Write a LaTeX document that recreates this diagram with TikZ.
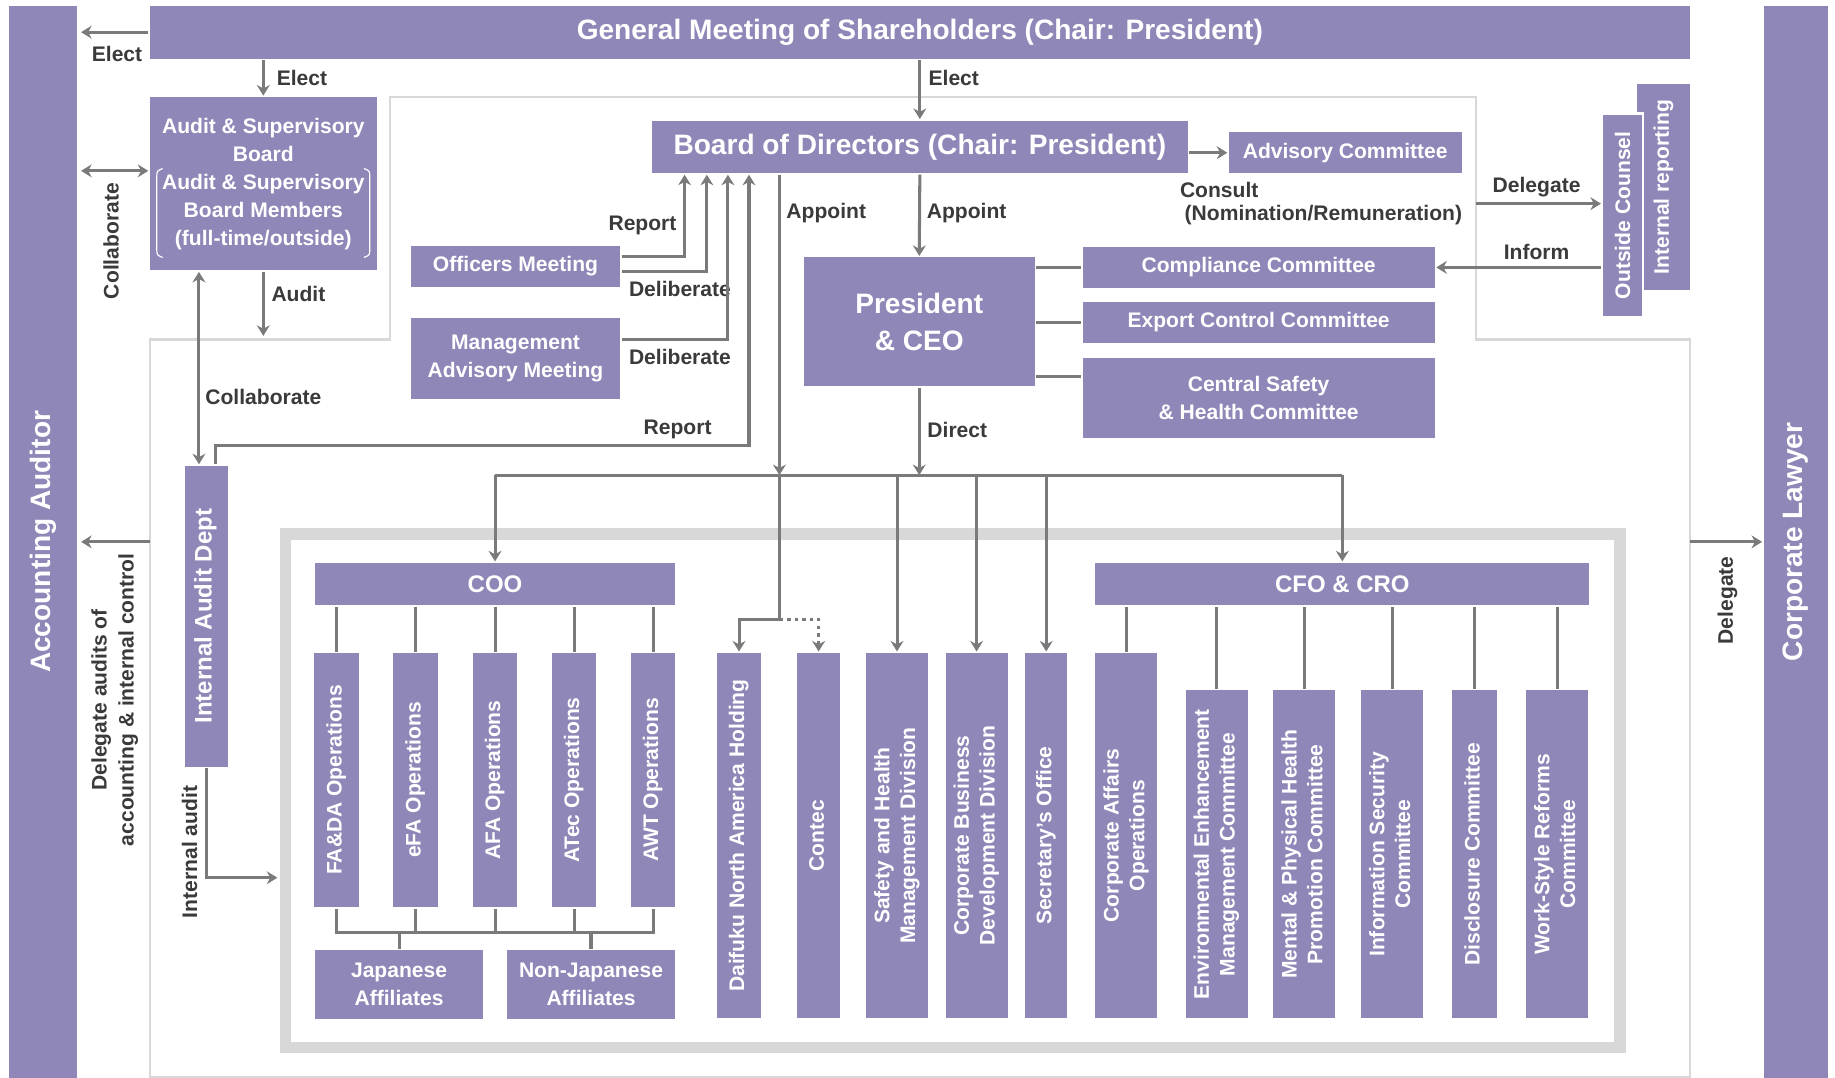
\documentclass[tikz,border=0pt]{standalone}
\usepackage{fontspec}
\setmainfont{Liberation Sans}
\usepackage{graphicx}
\usepackage{tikz}
\usetikzlibrary{arrows.meta}
\definecolor{boxpurple}{RGB}{143,135,184}
\definecolor{linegray}{RGB}{122,122,122}
\definecolor{framegray}{RGB}{216,216,216}
\definecolor{labelgray}{RGB}{58,58,58}
\newcommand{\uptext}[1]{\rotatebox{90}{\renewcommand{\arraystretch}{0.92}\begin{tabular}{@{}c@{}}#1\end{tabular}}}
\tikzset{every picture/.style={line width=2.6pt}}
\tikzset{
  box/.style={fill=boxpurple, text=white, inner sep=0pt, align=center,
    font=\bfseries\fontsize{18}{24}\selectfont},
  bigbox/.style={box, font=\bfseries\fontsize{24}{31}\selectfont},
  midbox/.style={box, font=\bfseries\fontsize{20.5}{24}\selectfont},
  lbl/.style={text=labelgray, inner sep=0pt, align=center,
    font=\bfseries\fontsize{18}{23}\selectfont},
  arr/.style={draw=linegray, -{Stealth[length=9pt,width=11pt]}},
  dblarr/.style={draw=linegray, {Stealth[length=9pt,width=11pt]}-{Stealth[length=9pt,width=11pt]}},
  ln/.style={draw=linegray},
  frameline/.style={draw=framegray, line width=2pt},
}

\begin{document}
\begin{tikzpicture}[x=1pt,y=-1pt]
\useasboundingbox (0,0) rectangle (1568,921);
% frames
\draw[frameline] (128,290) -- (333,290) -- (333,83) -- (1261,83) -- (1261,290) -- (1444,290) -- (1444,920) -- (128,920) -- cycle;
\draw[draw=framegray, line width=10pt] (244,456) rectangle (1384,895);
%
\node[bigbox, minimum width=58pt, minimum height=916pt] (aud) at (37,463) {\rotatebox{90}{Accounting Auditor}};
\node[bigbox, minimum width=55pt, minimum height=916pt] (law) at (1534.5,463) {\rotatebox{90}{Corporate Lawyer}};
\node[bigbox, minimum width=1316pt, minimum height=45pt] (gms) at (786,27.5) {General Meeting of Shareholders (Chair: President)};
%
\node[box, minimum width=194pt, minimum height=148pt] (asb) at (225,157) {Audit \& Supervisory\\Board\\Audit \& Supervisory\\Board Members\\(full-time/outside)};
\draw[white, line width=1pt] (139,144) .. controls (134,146) .. (134,152) -- (134,212) .. controls (134,218) .. (139,220);
\draw[white, line width=1pt] (311,144) .. controls (316,146) .. (316,152) -- (316,212) .. controls (316,218) .. (311,220);
%
\node[bigbox, minimum width=458pt, minimum height=45pt] (bod) at (786,125.5) {Board of Directors (Chair: President)};
\node[box, minimum width=199pt, minimum height=35pt] (adv) at (1149.5,130.5) {Advisory Committee};
\node[box, minimum width=179pt, minimum height=35pt] (offm) at (440.5,227.5) {Officers Meeting};
\node[box, minimum width=179pt, minimum height=69pt] (mam) at (440.5,306.5) {Management\\Advisory Meeting};
\node[bigbox, minimum width=197pt, minimum height=110pt] (pres) at (785.5,275) {President\\\& CEO};
\node[box, minimum width=301pt, minimum height=35pt] (comp) at (1075.5,228.5) {Compliance Committee};
\node[box, minimum width=301pt, minimum height=35pt] (expc) at (1075.5,275.5) {Export Control Committee};
\node[box, minimum width=301pt, minimum height=68pt] (csh) at (1075.5,340) {Central Safety\\\& Health Committee};
\node[box, minimum width=45pt, minimum height=176pt] (intr) at (1421.5,160) {\rotatebox{90}{Internal reporting}};
\node[box, draw=white, line width=2pt, minimum width=35pt, minimum height=174pt] (outc) at (1386.5,184) {\rotatebox{90}{Outside Counsel}};
\node[midbox, minimum width=37pt, minimum height=257pt] (iad) at (176.5,526.5) {\uptext{Internal Audit Dept}};
%
\node[midbox, minimum width=308pt, minimum height=36pt] (coo) at (423,499) {COO};
\node[box, minimum width=38pt, minimum height=217pt] (fada) at (287.5,666.5) {\uptext{FA\&DA Operations}};
\node[box, minimum width=38pt, minimum height=217pt] (efa) at (355,666.5) {\uptext{eFA Operations}};
\node[box, minimum width=38pt, minimum height=217pt] (afa) at (423,666.5) {\uptext{AFA Operations}};
\node[box, minimum width=38pt, minimum height=217pt] (atec) at (490.5,666.5) {\uptext{ATec Operations}};
\node[box, minimum width=38pt, minimum height=217pt] (awt) at (558,666.5) {\uptext{AWT Operations}};
\node[box, minimum width=144pt, minimum height=59pt] (jaff) at (341,841.5) {Japanese\\Affiliates};
\node[box, minimum width=144pt, minimum height=59pt] (njaff) at (505,841.5) {Non-Japanese\\Affiliates};
%
\node[box, minimum width=37pt, minimum height=312pt] (dna) at (631.5,714) {\uptext{Daifuku North America Holding}};
\node[box, minimum width=37pt, minimum height=312pt] (contec) at (699.5,714) {\uptext{Contec}};
\node[box, minimum width=53pt, minimum height=312pt] (shm) at (766.5,714) {\uptext{Safety and Health\\Management Division}};
\node[box, minimum width=53pt, minimum height=312pt] (cbd) at (834.5,714) {\uptext{Corporate Business\\Development Division}};
\node[box, minimum width=36pt, minimum height=312pt] (sec) at (894,714) {\uptext{Secretary’s Office}};
%
\node[midbox, minimum width=422pt, minimum height=36pt] (cfo) at (1147,499) {CFO \& CRO};
\node[box, minimum width=53pt, minimum height=312pt] (caf) at (962.5,714) {\uptext{Corporate Affairs\\Operations}};
\node[box, minimum width=53pt, minimum height=280pt] (eem) at (1039.5,730) {\uptext{Environmental Enhancement\\Management Committee}};
\node[box, minimum width=53pt, minimum height=280pt] (mph) at (1114.5,730) {\uptext{Mental \& Physical Health\\Promotion Committee}};
\node[box, minimum width=53pt, minimum height=280pt] (isc) at (1189.5,730) {\uptext{Information Security\\Committee}};
\node[box, minimum width=38pt, minimum height=280pt] (dsc) at (1260,730) {\uptext{Disclosure Committee}};
\node[box, minimum width=53pt, minimum height=280pt] (wsr) at (1330.5,730) {\uptext{Work-Style Reforms\\Committee}};
%
% shareholders and auditors
\draw[arr, shorten >=2pt] (gms.west) -- (gms.west -| aud.east);
\node[lbl] (e1) at (100,46) {Elect};
\draw[arr] (gms.south -| asb.north) -- (asb.north);
\node[lbl] (e2) at (258,67) {Elect};
\draw[arr] (gms.south) -- (bod.north);
\node[lbl] (e3) at (815,67) {Elect};
\draw[dblarr, shorten <=2pt] (aud.east |- 0,146) -- (asb.west |- 0,146);
\node[lbl, rotate=90] (c1) at (95,206) {Collaborate};
\coordinate (auditend) at (225,287);
\draw[arr] (asb.south) -- (auditend);
\node[lbl] (a1) at (255,251) {Audit};
\draw[dblarr] (iad.north -| 170,0) -- (asb.south -| 170,0);
\node[lbl] (c2) at (225,339) {Collaborate};
%
% report and deliberate
\draw[arr] (offm.east |- 0,219.5) -| (bod.south -| 585,0);
\node[lbl] (r1) at (549,193) {Report};
\draw[arr] (offm.east |- 0,232) -| (bod.south -| 604,0);
\node[lbl] (d1) at (581,247) {Deliberate};
\draw[arr] (mam.east |- 0,290.5) -| (bod.south -| 622,0);
\node[lbl] (d2) at (581,305) {Deliberate};
\draw[arr] (iad.north -| 184,0) |- (640,381) -- (bod.south -| 640,0);
\node[lbl] (r2) at (579,367) {Report};
%
% appoint and direct
\coordinate (busl) at (423,406);
\coordinate (busr) at (1147,406);
\coordinate (appt) at (666,406);
\coordinate (split) at (666,529);
\draw[ln] (busl) -- (busr);
\draw[arr] (bod.south -| appt) -- (appt);
\node[lbl] (p1) at (706,182) {Appoint};
\draw[arr] (bod.south) -- (pres.north);
\node[lbl] (p2) at (826,182) {Appoint};
\draw[arr] (pres.south) -- (pres.south |- busl);
\node[lbl] (dr) at (818,367) {Direct};
\draw[arr] (busl) -- (coo.north);
\draw[arr] (busr) -- (cfo.north);
\draw[arr] (appt) -- (split) -| (dna.north);
\draw[arr, dash pattern=on 3pt off 3.5pt] (split) -| (contec.north);
\draw[arr] (shm.north |- busl) -- (shm.north);
\draw[arr] (cbd.north |- busl) -- (cbd.north);
\draw[arr] (sec.north |- busl) -- (sec.north);
%
% president and board side
\draw[ln] (pres.east |- comp.west) -- (comp.west);
\draw[ln] (pres.east |- expc.west) -- (expc.west);
\draw[ln] (pres.east |- 0,322) -- (csh.west |- 0,322);
\draw[arr] (bod.east |- adv.west) -- (adv.west);
\node[lbl, anchor=west] (cs1) at (1007,162) {Consult};
\node[lbl, anchor=west] (cs2) at (1011,184) {(Nomination/Remuneration)};
\coordinate (dlg) at (1261,174);
\draw[arr] (dlg) -- (dlg -| outc.west);
\node[lbl] (g1) at (1313,160) {Delegate};
\draw[arr] (outc.west |- comp.east) -- (comp.east);
\node[lbl] (i1) at (1313,215) {Inform};
%
% delegate and internal audit
\coordinate (dla) at (128,463);
\draw[arr, shorten >=2pt] (dla) -- (dla -| aud.east);
\node[lbl, rotate=90] (g2) at (98,598) {Delegate audits of\\accounting \& internal control};
\coordinate (dlr) at (1444,463);
\draw[arr] (dlr) -- (dlr -| law.west);
\node[lbl, rotate=90] (g3) at (1476,513) {Delegate};
\coordinate (iaend) at (237,750);
\draw[arr] (iad.south) |- (iaend);
\node[lbl, rotate=90] (ia) at (162,728) {Internal audit};
%
% COO lines
\draw[ln] (coo.south -| fada.north) -- (fada.north);
\draw[ln] (coo.south -| efa.north) -- (efa.north);
\draw[ln] (coo.south -| afa.north) -- (afa.north);
\draw[ln] (coo.south -| atec.north) -- (atec.north);
\draw[ln] (coo.south -| awt.north) -- (awt.north);
\coordinate (opsbus) at (0,797);
\draw[ln] (fada.south) |- (awt.south |- opsbus) -- (awt.south);
\draw[ln] (efa.south) -- (efa.south |- opsbus);
\draw[ln] (afa.south) -- (afa.south |- opsbus);
\draw[ln] (atec.south) -- (atec.south |- opsbus);
\draw[ln] (jaff.north |- opsbus) -- (jaff.north);
\draw[ln] (njaff.north |- opsbus) -- (njaff.north);
%
% CFO lines
\draw[ln] (cfo.south -| caf.north) -- (caf.north);
\draw[ln] (cfo.south -| eem.north) -- (eem.north);
\draw[ln] (cfo.south -| mph.north) -- (mph.north);
\draw[ln] (cfo.south -| isc.north) -- (isc.north);
\draw[ln] (cfo.south -| dsc.north) -- (dsc.north);
\draw[ln] (cfo.south -| wsr.north) -- (wsr.north);
\end{tikzpicture}
\end{document}
